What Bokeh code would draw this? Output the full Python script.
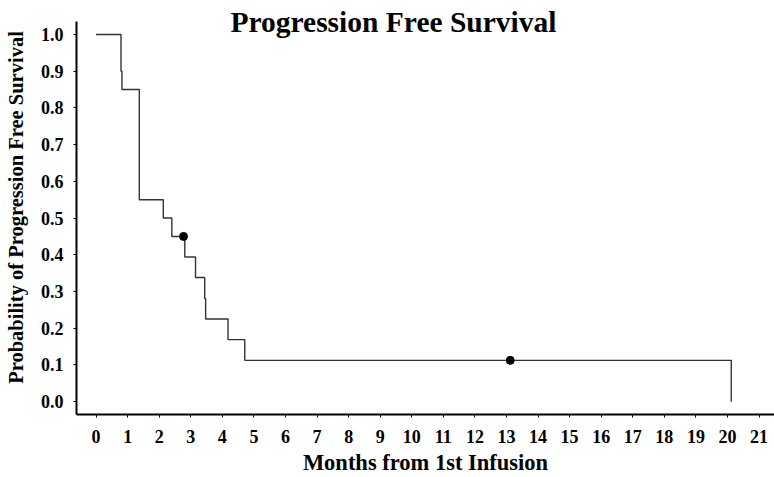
from bokeh.plotting import figure
from bokeh.models import Range1d, FixedTicker, NumeralTickFormatter
from bokeh.core.properties import value
from bokeh.embed import file_html
from bokeh.resources import INLINE

# Kaplan-Meier step data (months, survival probability)
times = [0, 0.79, 0.82, 1.37, 2.13, 2.40, 2.81, 3.15, 3.44, 3.47, 4.18, 4.71, 20.12]
surv = [1.0, 0.90, 0.85, 0.55, 0.50, 0.45, 0.394, 0.338, 0.281, 0.225, 0.169, 0.1125, 0.0]
# censored observations
cens_t = [2.77, 13.12]
cens_s = [0.45, 0.1125]

x_ticks = list(range(0, 22))
y_ticks = [0.0, 0.1, 0.2, 0.3, 0.4, 0.5, 0.6, 0.7, 0.8, 0.9, 1.0]

title_text = "Progression Free Survival"
x_title = "Months from 1st Infusion"
y_title = "Probability of Progression Free Survival"

FONT = "Liberation Serif"

p = figure(width=774, height=477, output_backend="svg", toolbar_location=None,
           x_range=Range1d(-0.62, 21.49), y_range=Range1d(-0.035, 1.0926),
           min_border_left=76, min_border_right=0, min_border_top=0, min_border_bottom=63)
p.outline_line_color = None
p.xgrid.visible = False
p.ygrid.visible = False
p.background_fill_color = "white"
p.border_fill_color = "white"

p.step(times, surv, mode="after", line_color="#333333", line_width=1.4)
p.scatter(cens_t, cens_s, size=8, color="black")

# chart title drawn inside the (extended) frame
p.text(x=[9.42], y=[1.0327], text=[title_text], text_align="center",
       text_baseline="alphabetic", text_font=value(FONT), text_font_style="bold",
       text_font_size="29.5px", text_color="black")

xa = p.xaxis[0]
xa.ticker = FixedTicker(ticks=x_ticks)
xa.axis_label = x_title
xa.axis_label_text_font = FONT
xa.axis_label_text_font_style = "bold"
xa.axis_label_text_font_size = "22.5px"
xa.axis_label_text_color = "black"
xa.axis_label_standoff = 4
xa.major_label_text_font = FONT
xa.major_label_text_font_style = "bold"
xa.major_label_text_font_size = "18px"
xa.major_label_text_color = "black"
xa.major_label_standoff = 12
xa.major_tick_out = 3
xa.major_tick_in = 0
xa.minor_tick_out = 0
xa.minor_tick_in = 0
xa.axis_line_width = 2
xa.axis_line_color = "black"
xa.major_tick_line_color = "black"
xa.major_tick_line_width = 1

ya = p.yaxis[0]
ya.ticker = FixedTicker(ticks=y_ticks)
ya.bounds = (-0.035, 1.035)
ya.formatter = NumeralTickFormatter(format="0.0")
ya.axis_label = y_title
ya.axis_label_text_font = FONT
ya.axis_label_text_font_style = "bold"
ya.axis_label_text_font_size = "20.5px"
ya.axis_label_text_color = "black"
ya.axis_label_standoff = 11
ya.major_label_text_font = FONT
ya.major_label_text_font_style = "bold"
ya.major_label_text_font_size = "18px"
ya.major_label_text_color = "black"
ya.major_label_standoff = 10
ya.major_tick_out = 3
ya.major_tick_in = 0
ya.minor_tick_out = 0
ya.minor_tick_in = 0
ya.axis_line_width = 2
ya.axis_line_color = "black"
ya.major_tick_line_color = "black"

open("out.html", "w").write(file_html(p, INLINE))
